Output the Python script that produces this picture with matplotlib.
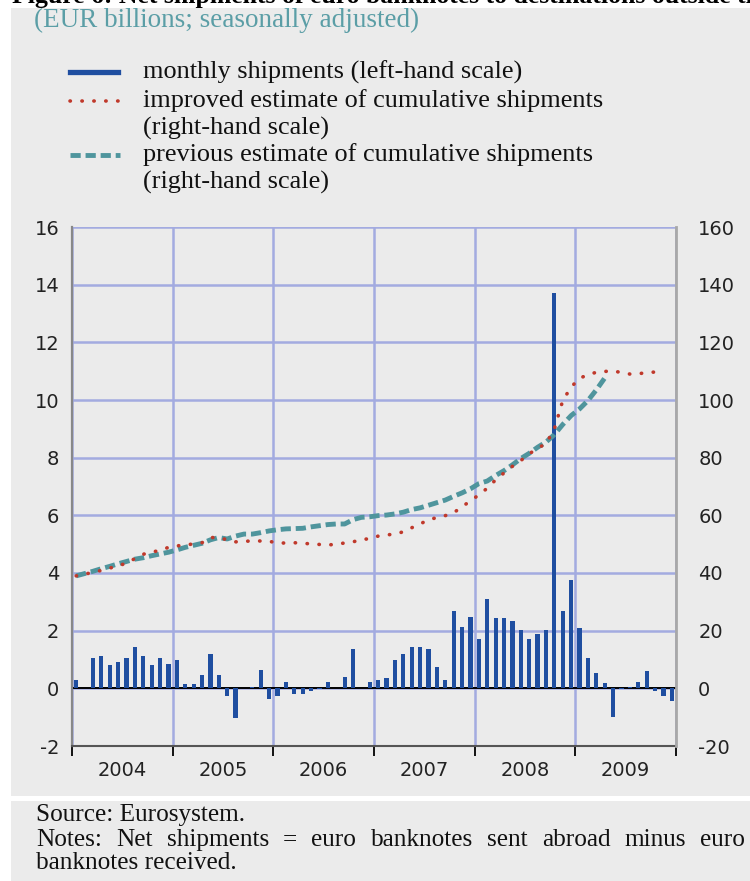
import matplotlib
matplotlib.use("Agg")
import matplotlib.pyplot as plt
from matplotlib.patches import Rectangle
from matplotlib.lines import Line2D
import numpy as np

# ---------------- data ----------------
years = ["2004", "2005", "2006", "2007", "2008", "2009"]

monthly_shipments = [
    0.30, 0.00, 1.05, 1.12, 0.82, 0.92, 1.06, 1.42, 1.12, 0.82, 1.06, 0.86,   # 2004
    0.98, 0.14, 0.14, 0.46, 1.18, 0.46, -0.28, -1.02, 0.00, 0.06, 0.62, -0.36, # 2005
    -0.28, 0.22, -0.20, -0.20, -0.08, -0.04, 0.22, 0.00, 0.38, 1.38, 0.00, 0.22, # 2006
    0.28, 0.36, 0.98, 1.18, 1.42, 1.42, 1.35, 0.74, 0.28, 2.68, 2.12, 2.48,    # 2007
    1.72, 3.10, 2.45, 2.45, 2.34, 2.02, 1.72, 1.88, 2.02, 13.70, 2.68, 3.75,   # 2008
    2.10, 1.06, 0.52, 0.18, -0.98, -0.04, 0.06, 0.22, 0.60, -0.08, -0.28, -0.44, # 2009
]

improved_cumulative = [
    39.0, 39.6, 40.2, 40.9, 41.7, 42.5, 43.4, 45.0, 46.5, 47.3, 47.8, 48.9,
    49.4, 49.7, 50.1, 50.5, 52.3, 52.3, 51.5, 50.8, 51.0, 51.1, 51.1, 51.0,
    50.4, 50.4, 50.5, 50.3, 50.1, 49.9, 49.7, 50.0, 50.4, 50.8, 51.6, 51.9,
    52.8, 53.2, 53.5, 54.3, 55.7, 57.0, 58.5, 59.2, 59.9, 60.9, 63.0, 65.0,
    67.1, 69.4, 72.3, 74.7, 77.0, 79.0, 81.3, 83.3, 84.8, 90.0, 99.8, 104.5,
    107.5, 108.8, 109.6, 109.9, 110.1, 109.5, 109.0, 109.1, 109.5, 109.7, 109.7,
]

previous_cumulative = [
    39.0, 39.8, 40.6, 41.5, 42.3, 43.2, 44.0, 44.8, 45.3, 46.0, 46.6, 47.2,
    48.0, 48.9, 49.6, 50.3, 51.5, 52.3, 51.8, 52.8, 53.5, 53.5, 54.0, 54.6,
    55.0, 55.3, 55.4, 55.5, 56.0, 56.4, 56.8, 57.0, 57.0, 58.5, 59.3, 59.5,
    59.9, 60.1, 60.5, 61.1, 62.0, 62.6, 63.5, 64.4, 65.3, 66.6, 67.8, 69.2,
    71.0, 71.9, 73.8, 75.5, 77.5, 79.7, 81.5, 83.6, 85.4, 88.0, 91.5, 94.6,
    96.9, 99.8, 103.5, 107.6,
]

left_ticks = list(range(-2, 17, 2))
right_ticks = list(range(-20, 161, 20))

# ---------------- styling ----------------
W, H = 750, 881
BG = "#ebebeb"
GRID = "#a3abe0"
BLUE = "#1f4ea0"
RED = "#c0392b"
TEAL = "#4f959d"
SUBTEAL = "#5b9ea6"

serif = ["Liberation Serif", "DejaVu Serif"]

fig = plt.figure(figsize=(W / 100, H / 100), dpi=100, facecolor="white")
renderer = fig.canvas.get_renderer()

def fx(x):
    return x / W

def fy(y):
    return 1 - y / H

# grey panels
fig.patches.append(Rectangle((fx(11), fy(796)), fx(750) - fx(11), fy(8) - fy(796),
                             transform=fig.transFigure, facecolor=BG, edgecolor="none", zorder=-5))
fig.patches.append(Rectangle((fx(11), fy(881)), fx(750) - fx(11), fy(801) - fy(881),
                             transform=fig.transFigure, facecolor=BG, edgecolor="none", zorder=-5))

# title (cut off at top)
fig.text(fx(12), fy(3), "Figure 6: Net shipments of euro banknotes to destinations outside the euro area",
         family=serif, fontweight="bold", fontsize=18.5, va="baseline", ha="left", color="black")
fig.text(fx(34), fy(20), "(EUR billions; seasonally adjusted)", family=serif, fontsize=19.5,
         va="center", ha="left", color=SUBTEAL)

# legend (manual)
fig.add_artist(Line2D([fx(70), fx(118)], [fy(72), fy(72)], color=BLUE, lw=3.8,
                      transform=fig.transFigure))
fig.add_artist(Line2D([fx(70), fx(120)], [fy(101), fy(101)], color=RED, lw=2.6,
                      linestyle=(0, (0.1, 3.2)), dash_capstyle="round", transform=fig.transFigure))
fig.add_artist(Line2D([fx(70), fx(120)], [fy(155), fy(155)], color=TEAL, lw=3.5,
                      linestyle=(0, (2.1, 1.0)), transform=fig.transFigure))
leg_lines = [
    (72, "monthly shipments (left-hand scale)"),
    (101, "improved estimate of cumulative shipments"),
    (128, "(right-hand scale)"),
    (155, "previous estimate of cumulative shipments"),
    (182, "(right-hand scale)"),
]
for y, t in leg_lines:
    fig.text(fx(143), fy(y), t, family=serif, fontsize=18.9, va="center", ha="left", color="#111111")

# notes
NOTE_FS = 18.2
fig.text(fx(36), fy(815), "Source: Eurosystem.", family=serif, fontsize=NOTE_FS,
         va="center", ha="left", color="#111111")
# justified line
words = "Notes: Net shipments = euro banknotes sent abroad minus euro".split()
widths = []
for w in words:
    t = fig.text(0, 0, w, family=serif, fontsize=NOTE_FS)
    widths.append(t.get_window_extent(renderer).width)
    t.remove()
x0, x1 = 36, 745
gap = (x1 - x0 - sum(widths)) / (len(words) - 1)
xc = x0
for w, wd in zip(words, widths):
    fig.text(fx(xc), fy(840), w, family=serif, fontsize=NOTE_FS, va="center", ha="left", color="#111111")
    xc += wd + gap
fig.text(fx(36), fy(863), "banknotes received.", family=serif, fontsize=NOTE_FS,
         va="center", ha="left", color="#111111")

# ---------------- axes ----------------
ax = fig.add_axes([fx(72), fy(746), fx(676) - fx(72), fy(227) - fy(746)])
ax.set_facecolor(BG)
ax.set_xlim(-0.5, len(monthly_shipments) - 0.5)
ax.set_ylim(-2, 16)

months = np.arange(len(monthly_shipments))
ax.axhline(0, color="black", lw=1.4, zorder=2)
ax.bar(months, monthly_shipments, width=0.5, color=BLUE, linewidth=0, zorder=3)

ax.set_yticks(left_ticks)
ax.set_yticklabels([str(v) for v in left_ticks])
year_bounds = [12 * k - 0.5 for k in range(len(years) + 1)]
ax.set_xticks(year_bounds)
ax.set_xticklabels([""] * len(year_bounds))
ax.set_xticks([12 * k + 5.5 for k in range(len(years))], minor=True)
ax.set_xticklabels(years, minor=True)

ax.set_axisbelow(True)
ax.grid(True, which="major", color=GRID, lw=1.8)
ax.tick_params(axis="x", which="major", direction="out", length=7, width=1.3, color="black")
ax.tick_params(axis="x", which="minor", length=0, pad=11, labelsize=14, labelcolor="#222222")
ax.tick_params(axis="y", length=0, pad=9, labelsize=14, labelcolor="#222222")

ax.spines["top"].set_visible(False)
ax.spines["right"].set_visible(False)
ax.spines["left"].set_color("#888888")
ax.spines["left"].set_linewidth(1.6)
ax.spines["bottom"].set_color("#555555")
ax.spines["bottom"].set_linewidth(1.5)

ax2 = ax.twinx()
ax2.set_ylim(-20, 160)
ax2.set_yticks(right_ticks)
ax2.set_yticklabels([str(v) for v in right_ticks])
ax2.tick_params(axis="y", length=0, pad=16, labelsize=14, labelcolor="#222222")
for s in ["top", "left", "bottom"]:
    ax2.spines[s].set_visible(False)
ax2.spines["right"].set_color("#a8a8a8")
ax2.spines["right"].set_linewidth(2.0)

ax2.plot(months[:len(previous_cumulative)], previous_cumulative, color=TEAL, lw=3.5,
         linestyle=(0, (2.1, 1.0)), zorder=4)
ax2.plot(months[:len(improved_cumulative)], improved_cumulative, color=RED, lw=2.6,
         linestyle=(0, (0.1, 3.2)), dash_capstyle="round", zorder=5)

fig.savefig("out.png", dpi=100, facecolor="white")
